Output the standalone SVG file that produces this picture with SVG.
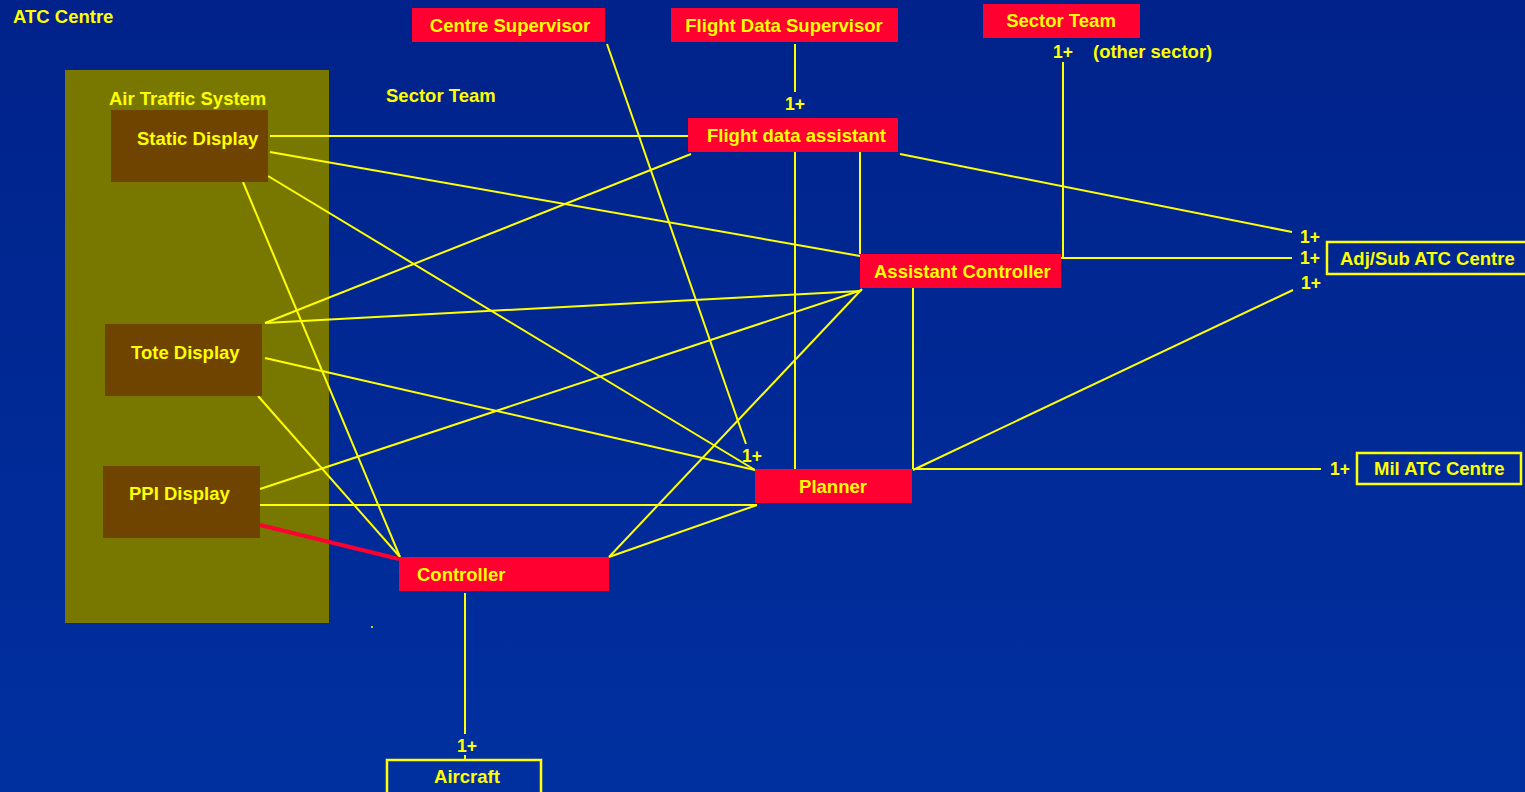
<svg xmlns="http://www.w3.org/2000/svg" width="1525" height="792" viewBox="0 0 1525 792">
<defs>
<linearGradient id="bg" x1="0" y1="0" x2="0" y2="1">
<stop offset="0" stop-color="#00228a"/>
<stop offset="1" stop-color="#0030a0"/>
</linearGradient>
</defs>
<style>
text{font-family:"Liberation Sans",Arial,sans-serif;font-weight:bold;fill:#ffff00;font-size:18.5px}
.lbl{font-size:17.5px}
.red{fill:#ff0030}
.brown{fill:#6e4400}
.out{fill:none;stroke:#ffff00;stroke-width:2.5}
.c line,.c polyline{stroke:#ffff00;stroke-width:2;fill:none}
.mid{text-anchor:middle}
</style>
<rect width="1525" height="792" fill="url(#bg)"/>
<text x="13" y="23">ATC Centre</text>
<g id="air-traffic-system">
<rect x="65" y="70" width="264" height="553" fill="#787800"/>
<text x="109" y="105">Air Traffic System</text>
</g>
<text x="386" y="102">Sector Team</text>
<circle cx="372" cy="627" r="1" fill="#ffff00"/>
<g class="c" id="connectors">
<line x1="270" y1="136" x2="688" y2="136"/>
<line x1="270" y1="152" x2="860" y2="256"/>
<line x1="268" y1="176" x2="755" y2="470"/>
<line x1="243" y1="182" x2="400" y2="557"/>
<line x1="265" y1="323" x2="691" y2="154"/>
<line x1="265" y1="323" x2="861" y2="291"/>
<line x1="265" y1="358" x2="755" y2="470"/>
<line x1="258" y1="396" x2="400" y2="557"/>
<line x1="260" y1="489" x2="862" y2="290"/>
<line x1="260" y1="505" x2="757" y2="505"/>
<line x1="260" y1="525" x2="399" y2="559" style="stroke:#ff0030;stroke-width:4"/>
<line x1="609" y1="557" x2="862" y2="289"/>
<line x1="609" y1="557" x2="757" y2="505"/>
<line x1="607" y1="44" x2="746" y2="444"/>
<line x1="795" y1="44" x2="795" y2="92"/>
<line x1="795" y1="152" x2="795" y2="469"/>
<line x1="860" y1="152" x2="860" y2="254"/>
<line x1="900" y1="154" x2="1292" y2="232"/>
<polyline points="1063,62 1063,258 1292,258"/>
<line x1="1061" y1="258" x2="1292" y2="258"/>
<line x1="913" y1="288" x2="913" y2="469"/>
<line x1="913" y1="470" x2="1293" y2="290"/>
<line x1="913" y1="469" x2="1321" y2="469"/>
<line x1="465" y1="593" x2="465" y2="734"/>
<line x1="465" y1="755" x2="465" y2="760"/>
</g>
<g id="labels">
<text class="lbl mid" x="752" y="462">1+</text>
<text class="lbl mid" x="795" y="110">1+</text>
<text class="lbl mid" x="1063" y="58">1+</text>
<text class="lbl" x="1093" y="58" style="font-size:18.5px">(other sector)</text>
<text class="lbl mid" x="1310" y="243">1+</text>
<text class="lbl mid" x="1310" y="264">1+</text>
<text class="lbl mid" x="1311" y="289">1+</text>
<text class="lbl mid" x="1340" y="475">1+</text>
<text class="lbl mid" x="467" y="752">1+</text>
</g>
<g id="static-display"><rect class="brown" x="111" y="110" width="157" height="72"/><text x="137" y="145">Static Display</text></g>
<g id="tote-display"><rect class="brown" x="105" y="324" width="157" height="72"/><text x="131" y="359">Tote Display</text></g>
<g id="ppi-display"><rect class="brown" x="103" y="466" width="157" height="72"/><text x="129" y="500">PPI Display</text></g>
<g id="centre-supervisor"><rect class="red" x="412" y="8" width="193" height="34"/><text class="mid" x="510" y="32">Centre Supervisor</text></g>
<g id="flight-data-supervisor"><rect class="red" x="671" y="8" width="227" height="34"/><text class="mid" x="784" y="32">Flight Data Supervisor</text></g>
<g id="sector-team-other"><rect class="red" x="983" y="4" width="157" height="34"/><text class="mid" x="1061" y="27">Sector Team</text></g>
<g id="flight-data-assistant"><rect class="red" x="688" y="118" width="210" height="34"/><text x="707" y="142">Flight data assistant</text></g>
<g id="assistant-controller"><rect class="red" x="860" y="254" width="201" height="34"/><text x="874" y="278">Assistant Controller</text></g>
<g id="planner"><rect class="red" x="755" y="469" width="157" height="34"/><text class="mid" x="833" y="493">Planner</text></g>
<g id="controller"><rect class="red" x="399" y="557" width="210" height="34"/><text x="417" y="581">Controller</text></g>
<g id="aircraft"><rect class="out" x="387" y="760" width="154" height="34"/><text class="mid" x="467" y="783">Aircraft</text></g>
<g id="adj-sub-atc-centre"><rect class="out" x="1327" y="242" width="210" height="32"/><text x="1340" y="265">Adj/Sub ATC Centre</text></g>
<g id="mil-atc-centre"><rect class="out" x="1357" y="453" width="164" height="31"/><text x="1374" y="475">Mil ATC Centre</text></g>
</svg>
